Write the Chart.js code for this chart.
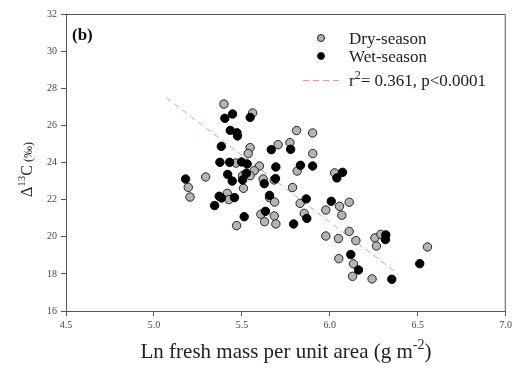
<!DOCTYPE html>
<html>
<head>
<meta charset="utf-8">
<script src="https://cdn.jsdelivr.net/npm/chart.js@4.4.0/dist/chart.umd.min.js"></script>
<style>
  html, body { margin: 0; padding: 0; background: #fff; }
  #wrap { width: 515px; height: 368px; }
</style>
</head>
<body>
<div id="wrap"><canvas id="chart" width="515" height="368"></canvas></div>
<script>
// ── Data ──
const dryX = [5.398, 5.561, 5.811, 5.902, 5.706, 5.773, 5.547, 5.536, 5.903, 5.466,
              5.600, 5.570, 5.547, 5.504, 5.814, 5.294, 5.621, 5.684, 6.027, 5.195,
              5.205, 5.417, 5.426, 5.509, 5.788, 5.657, 5.686, 5.831, 5.854, 5.977,
              6.055, 6.110, 6.068, 5.608, 5.684, 5.629, 5.693, 5.470, 5.977, 6.049,
              6.110, 6.148, 6.256, 6.265, 6.290, 6.555, 6.051, 6.134, 6.129, 6.240];
const dryY = [27.15, 26.67, 25.72, 25.59, 24.96, 25.07, 24.80, 24.48, 24.48, 23.97,
              23.81, 23.56, 23.29, 23.29, 23.54, 23.22, 23.11, 23.06, 23.44, 22.66,
              22.14, 22.34, 22.00, 22.61, 22.65, 22.11, 21.87, 21.80, 21.26, 21.44,
              21.64, 21.86, 21.16, 21.21, 21.12, 20.81, 20.69, 20.60, 20.04, 19.90,
              20.29, 19.79, 19.94, 19.50, 20.13, 19.45, 18.82, 18.54, 17.87, 17.73];

const wetX = [5.403, 5.447, 5.547, 5.434, 5.472, 5.475, 5.383, 5.667, 5.777, 5.375,
              5.430, 5.498, 5.530, 5.693, 5.833, 5.902, 5.419, 5.525, 5.180, 5.445,
              5.504, 5.691, 6.072, 6.040, 5.627, 5.657, 5.371, 5.384, 5.458, 5.345,
              5.866, 6.008, 5.634, 5.869, 5.513, 5.794, 6.318, 6.316, 6.119, 6.163,
              6.352, 6.511];
const wetY = [26.38, 26.61, 26.43, 25.73, 25.60, 25.43, 24.87, 24.69, 24.71, 24.01,
              24.01, 24.03, 23.92, 23.76, 23.85, 23.81, 23.36, 23.42, 23.11, 23.00,
              23.06, 23.13, 23.47, 23.17, 22.86, 22.23, 22.18, 22.09, 22.11, 21.68,
              22.04, 21.91, 21.37, 20.99, 21.08, 20.69, 20.10, 19.85, 19.04, 18.21,
              17.71, 18.55];

const fitX = [5.07, 6.39];
const fitY = [27.49, 17.98];

const xTicks = [4.5, 5.0, 5.5, 6.0, 6.5, 7.0];
const yTicks = [16, 18, 20, 22, 24, 26, 28, 30, 32];

const SERIF = '"Liberation Serif", "DejaVu Serif", serif';
const toPts = (xs, ys) => xs.map((x, i) => ({ x: x, y: ys[i] }));

// ── Text with superscripts: parts = [[text, size, dy], ...] ──
function drawParts(ctx, parts, x, y, align) {
    const widths = parts.map(p => { ctx.font = p[1] + 'px ' + SERIF; return ctx.measureText(p[0]).width; });
    const total = widths.reduce((a, b) => a + b, 0);
    let cx = align === 'center' ? x - total / 2 : x;
    parts.forEach((p, i) => {
        ctx.font = p[1] + 'px ' + SERIF;
        ctx.fillText(p[0], cx, y + (p[2] || 0));
        cx += widths[i];
    });
}

const decor = {
    id: 'decor',
    afterDraw(chart) {
        const ctx = chart.ctx;
        const a = chart.chartArea;
        ctx.save();
        // frame top / right
        ctx.strokeStyle = '#555';
        ctx.lineWidth = 1;
        ctx.beginPath();
        ctx.moveTo(a.left, a.top + 0.5);
        ctx.lineTo(a.right - 0.5, a.top + 0.5);
        ctx.lineTo(a.right - 0.5, a.bottom);
        ctx.stroke();

        // panel label
        ctx.fillStyle = '#111';
        ctx.textBaseline = 'alphabetic';
        ctx.textAlign = 'left';
        ctx.font = 'bold 17px ' + SERIF;
        ctx.fillText('(b)', 72, 40);

        // legend
        const mk = (y, fill) => {
            ctx.beginPath();
            ctx.arc(321, y, 3.5, 0, Math.PI * 2);
            ctx.fillStyle = fill;
            ctx.fill();
            ctx.strokeStyle = '#222';
            ctx.lineWidth = 1;
            ctx.stroke();
        };
        mk(38, '#b4b4b4');
        mk(56, '#000');
        ctx.strokeStyle = '#e39a9a';
        ctx.setLineDash([6, 4]);
        ctx.beginPath();
        ctx.moveTo(303, 80.5);
        ctx.lineTo(343, 80.5);
        ctx.stroke();
        ctx.setLineDash([]);

        ctx.fillStyle = '#222';
        ctx.font = '17px ' + SERIF;
        ctx.fillText('Dry-season', 349, 44);
        ctx.fillText('Wet-season', 349, 62);
        drawParts(ctx, [['r', 17, 0], ['2', 12, -7], ['= 0.361, p<0.0001', 17, 0]], 349, 86, 'left');

        // x axis title
        ctx.fillStyle = '#222';
        drawParts(ctx, [['Ln fresh mass per unit area (g m', 21, 0], ['-2', 14, -9], [')', 21, 0]], 286, 358, 'center');

        // y axis title (rotated)
        ctx.translate(32, (a.top + a.bottom) / 2 + 7);
        ctx.rotate(-Math.PI / 2);
        drawParts(ctx, [['Δ', 16, 0], ['13', 11, -7], ['C', 16, 0], [' (‰)', 12, 0]], 0, 0, 'center');
        ctx.restore();
    }
};

new Chart(document.getElementById('chart').getContext('2d'), {
    type: 'scatter',
    data: {
        datasets: [
            { label: 'Fit', type: 'line', data: toPts(fitX, fitY), borderColor: '#e39a9a',
              borderWidth: 1, borderDash: [6, 4], pointRadius: 0, fill: false, order: 3 },
            { label: 'Dry-season', data: toPts(dryX, dryY), backgroundColor: '#b4b4b4',
              borderColor: '#222', borderWidth: 1, pointRadius: 4.2, order: 2 },
            { label: 'Wet-season', data: toPts(wetX, wetY), backgroundColor: '#000',
              borderColor: '#000', borderWidth: 1, pointRadius: 4.2, order: 1 }
        ]
    },
    options: {
        responsive: false,
        animation: false,
        layout: { padding: { left: 0, right: 9, top: 14, bottom: 0 } },
        plugins: { legend: { display: false }, tooltip: { enabled: false } },
        scales: {
            x: {
                type: 'linear', min: 4.5, max: 7.0,
                afterBuildTicks: s => { s.ticks = xTicks.map(v => ({ value: v })); },
                afterFit: s => { s.height = 57; },
                grid: { drawOnChartArea: false, drawTicks: true, tickLength: 5, color: '#555' },
                border: { color: '#555', width: 1 },
                ticks: { color: '#444', padding: 3, font: { family: SERIF, size: 10 },
                         callback: v => v.toFixed(1) }
            },
            y: {
                type: 'linear', min: 16, max: 32,
                afterBuildTicks: s => { s.ticks = yTicks.map(v => ({ value: v })); },
                afterFit: s => { s.width = 66; },
                grid: { drawOnChartArea: false, drawTicks: true, tickLength: 5, color: '#555' },
                border: { color: '#555', width: 1 },
                ticks: { color: '#444', padding: 4, font: { family: SERIF, size: 10 } }
            }
        }
    },
    plugins: [decor]
});
</script>
</body>
</html>
